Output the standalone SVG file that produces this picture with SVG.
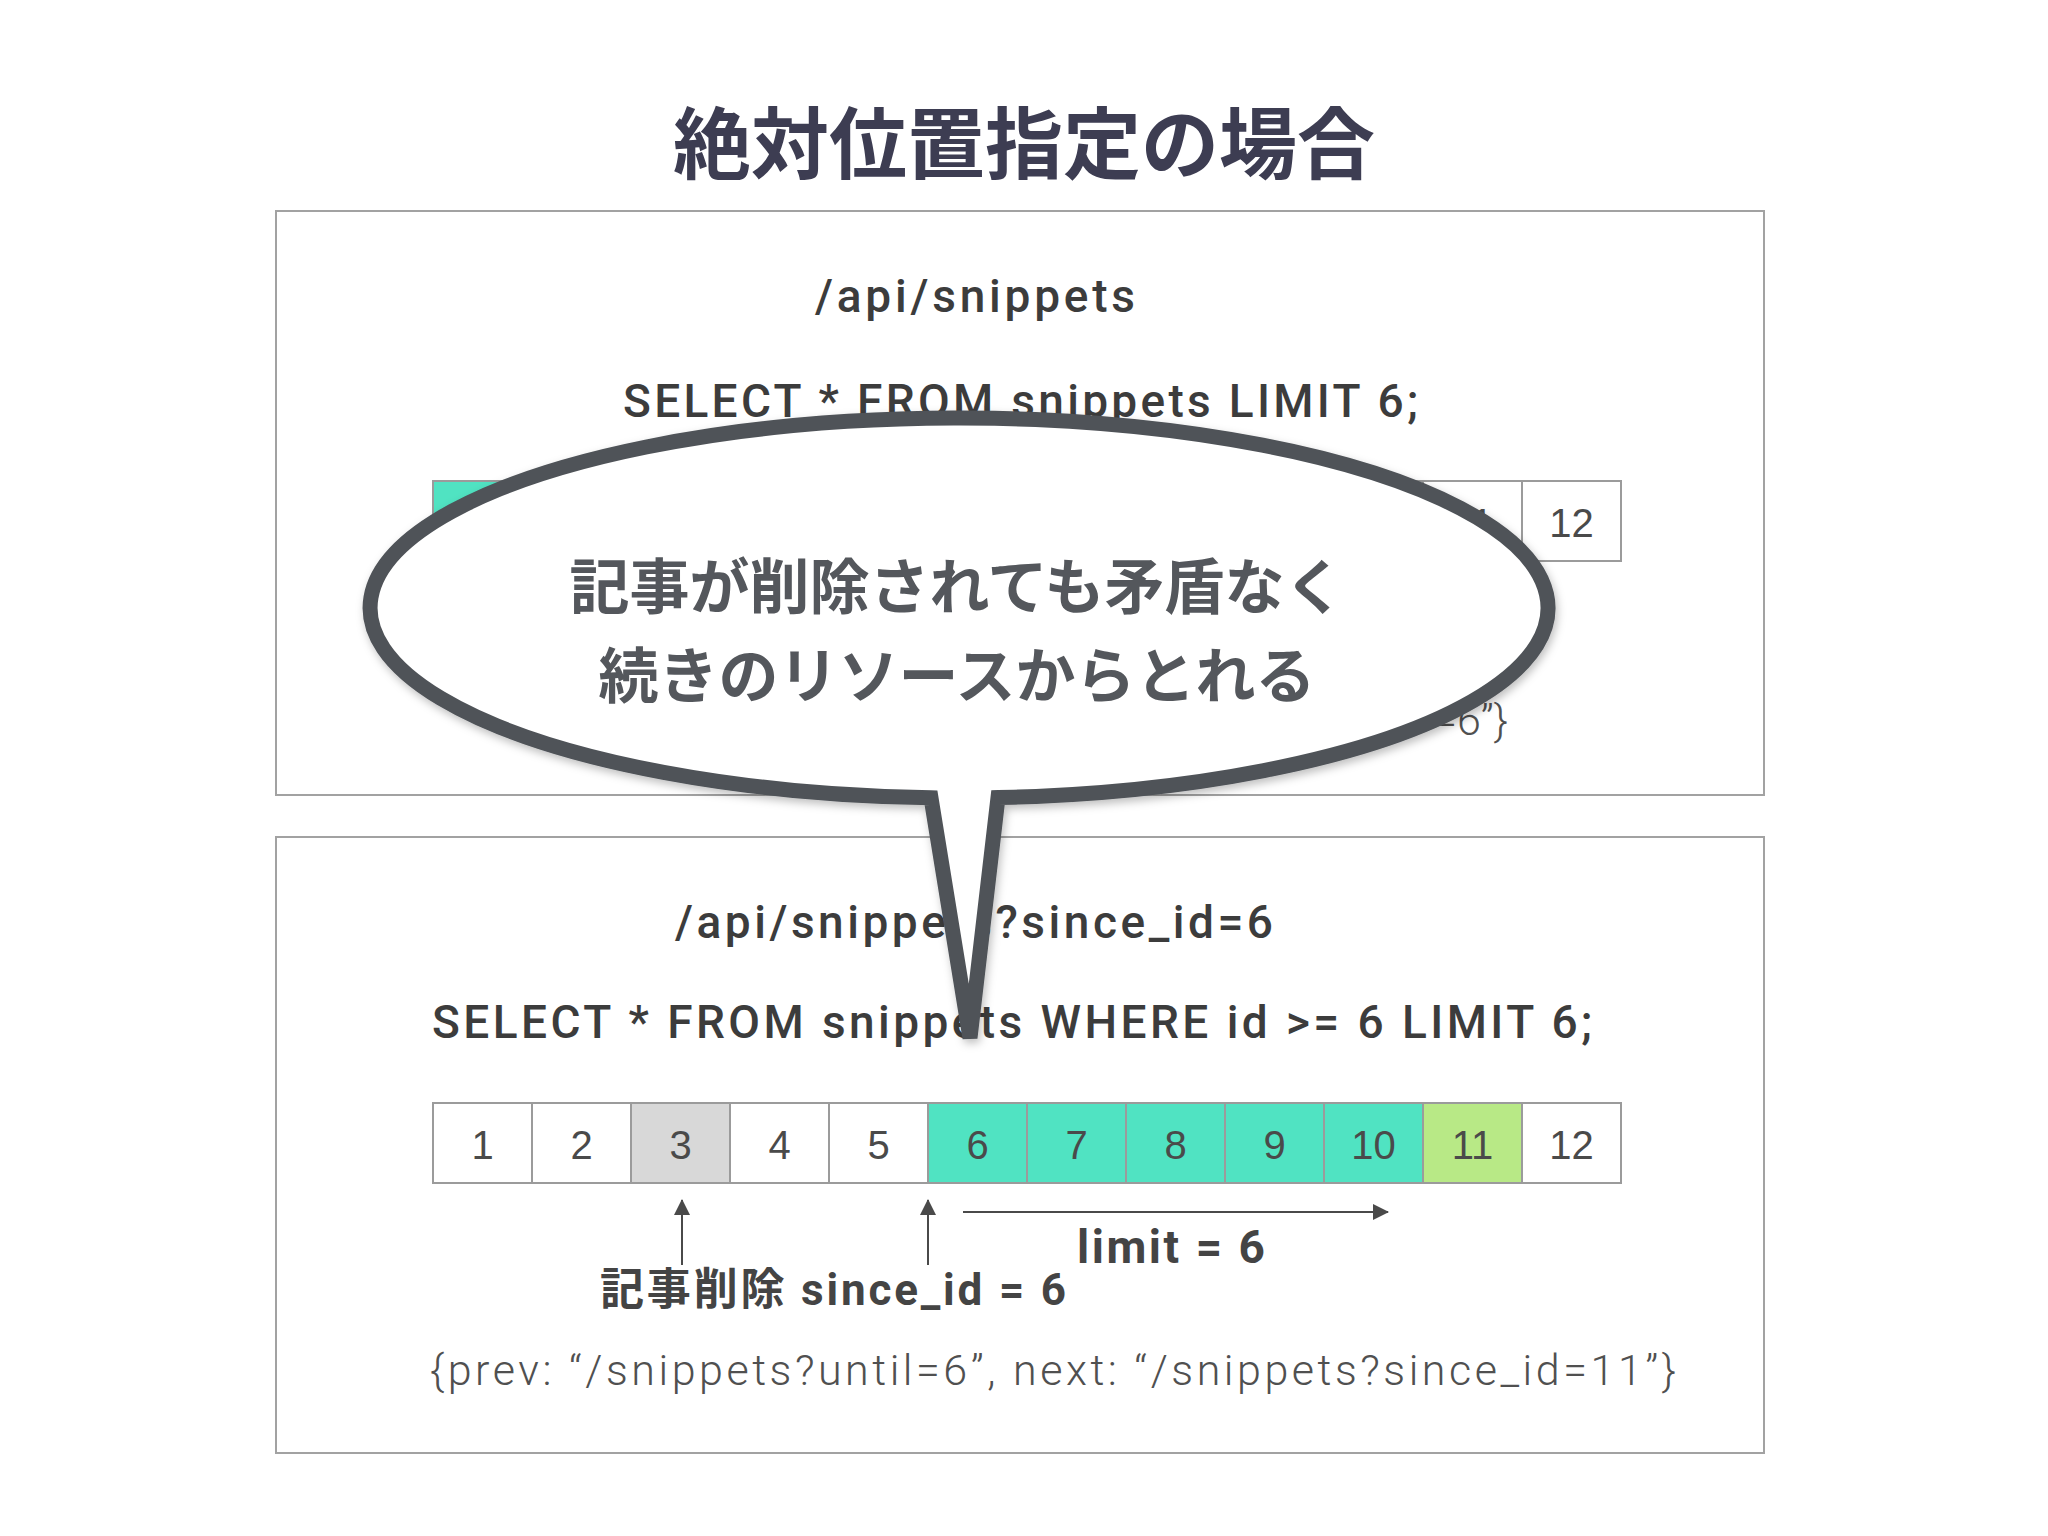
<svg xmlns="http://www.w3.org/2000/svg" width="2048" height="1536" viewBox="0 0 2048 1536">
<defs>
<style>
.box{fill:#fff;stroke:#a2a2a2;stroke-width:2}
.c{stroke:#9b9b9b;stroke-width:2}
.w{fill:#fff}.t{fill:#50e3c2}.g{fill:#b8e986}.d{fill:#d8d8d8}
.lat{font-family:Roboto,"Liberation Sans","Noto Sans CJK JP",sans-serif;fill:#3c3c3c;font-size:46px;font-weight:500}
.num{font-family:"Liberation Sans","Noto Sans",sans-serif;fill:#4a4a4a;font-size:40px;text-anchor:middle}
.json{font-family:Roboto,"Liberation Sans",sans-serif;fill:#505050;font-size:43px;font-weight:300}
.bold{font-family:Roboto,"Liberation Sans","Noto Sans CJK JP",sans-serif;fill:#444;font-weight:700}
.jp{font-family:"Noto Sans CJK JP",sans-serif;font-weight:700;text-anchor:middle}
.arr{stroke:#4a4a4a;stroke-width:2;fill:none;marker-end:url(#ah)}
</style>
<marker id="ah" viewBox="0 0 16 16" refX="15" refY="8" markerWidth="16" markerHeight="16" markerUnits="userSpaceOnUse" orient="auto"><path d="M0,0 L16,8 L0,16 Z" fill="#4a4a4a"/></marker>
<filter id="sh" x="-5%" y="-5%" width="112%" height="120%"><feDropShadow dx="2" dy="4" stdDeviation="4" flood-color="#000" flood-opacity="0.25"/></filter>
</defs>
<rect width="2048" height="1536" fill="#fff"/>
<g id="title"><text class="jp" x="1024" y="173" font-size="78" fill="#3d3d52">絶対位置指定の場合</text></g>

<g id="box-top">
<rect class="box" x="276" y="211" width="1488" height="584"/>
<text class="lat" x="815" y="312" textLength="320" lengthAdjust="spacing">/api/snippets</text>
<text class="lat" x="623" y="417" textLength="795" lengthAdjust="spacing">SELECT * FROM snippets LIMIT 6;</text>
<g id="row-top">
<rect class="c t" x="433" y="481" width="99" height="80"/>
<rect class="c t" x="532" y="481" width="99" height="80"/>
<rect class="c t" x="631" y="481" width="99" height="80"/>
<rect class="c t" x="730" y="481" width="99" height="80"/>
<rect class="c t" x="829" y="481" width="99" height="80"/>
<rect class="c t" x="928" y="481" width="99" height="80"/>
<rect class="c w" x="1027" y="481" width="99" height="80"/>
<rect class="c w" x="1126" y="481" width="99" height="80"/>
<rect class="c w" x="1225" y="481" width="99" height="80"/>
<rect class="c w" x="1324" y="481" width="99" height="80"/>
<rect class="c w" x="1423" y="481" width="99" height="80"/>
<rect class="c w" x="1522" y="481" width="99" height="80"/>
<text class="num" x="1472.5" y="537">11</text>
<text class="num" x="1571.5" y="537">12</text>
</g>
<text class="json" x="1508" y="735" text-anchor="end">=6”}</text>
</g>

<g id="box-bottom">
<rect class="box" x="276" y="837" width="1488" height="616"/>
<text class="lat" x="675" y="938" textLength="598" lengthAdjust="spacing">/api/snippets?since_id=6</text>
<text class="lat" x="432" y="1038" textLength="1160" lengthAdjust="spacing">SELECT * FROM snippets WHERE id &gt;= 6 LIMIT 6;</text>
<g id="row-bottom">
<rect class="c w" x="433" y="1103" width="99" height="80"/>
<rect class="c w" x="532" y="1103" width="99" height="80"/>
<rect class="c d" x="631" y="1103" width="99" height="80"/>
<rect class="c w" x="730" y="1103" width="99" height="80"/>
<rect class="c w" x="829" y="1103" width="99" height="80"/>
<rect class="c t" x="928" y="1103" width="99" height="80"/>
<rect class="c t" x="1027" y="1103" width="99" height="80"/>
<rect class="c t" x="1126" y="1103" width="99" height="80"/>
<rect class="c t" x="1225" y="1103" width="99" height="80"/>
<rect class="c t" x="1324" y="1103" width="99" height="80"/>
<rect class="c g" x="1423" y="1103" width="99" height="80"/>
<rect class="c w" x="1522" y="1103" width="99" height="80"/>
<text class="num" x="482.5" y="1159">1</text>
<text class="num" x="581.5" y="1159">2</text>
<text class="num" x="680.5" y="1159">3</text>
<text class="num" x="779.5" y="1159">4</text>
<text class="num" x="878.5" y="1159">5</text>
<text class="num" x="977.5" y="1159">6</text>
<text class="num" x="1076.5" y="1159">7</text>
<text class="num" x="1175.5" y="1159">8</text>
<text class="num" x="1274.5" y="1159">9</text>
<text class="num" x="1373.5" y="1159">10</text>
<text class="num" x="1472.5" y="1159">11</text>
<text class="num" x="1571.5" y="1159">12</text>
</g>
<text class="bold" x="1077" y="1263" font-size="46" textLength="188" lengthAdjust="spacing">limit = 6</text>
<text class="bold" x="600" y="1305" font-size="44" textLength="466" lengthAdjust="spacing">記事削除 since_id = 6</text>
<text class="json" x="430" y="1385" textLength="1246" lengthAdjust="spacing">{prev: “/snippets?until=6”, next: “/snippets?since_id=11”}</text>
</g>

<g id="connectors">
<line class="arr" x1="682" y1="1265" x2="682" y2="1200"/>
<line class="arr" x1="928" y1="1265" x2="928" y2="1200"/>
<line class="arr" x1="963" y1="1212" x2="1388" y2="1212"/>
</g>

<g id="bubble">
<path d="M931,797.8 A589,190 0 1 1 998,797.6 L970,1038 Z" fill="#fff" stroke="#4f5358" stroke-width="15" stroke-linejoin="miter" stroke-miterlimit="4" filter="url(#sh)"/>
<text class="jp" x="957" y="609" font-size="60" fill="#54575c">記事が削除されても矛盾なく</text>
<text class="jp" x="957" y="698" font-size="60" fill="#54575c">続きのリソースからとれる</text>
</g>
</svg>
